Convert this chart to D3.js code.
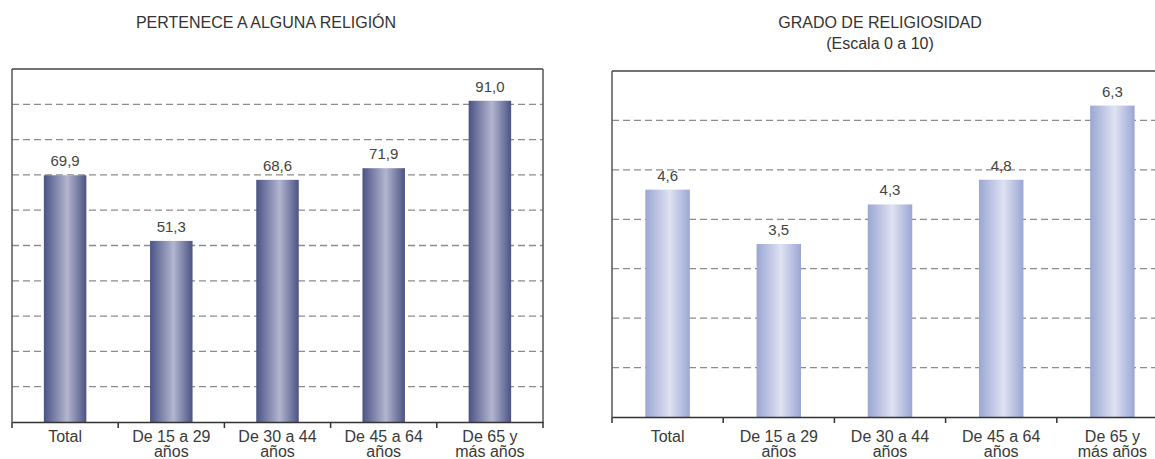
<!DOCTYPE html>
<html>
<head>
<meta charset="utf-8">
<script src="https://cdn.jsdelivr.net/npm/d3@7"></script>
<style>
  html, body { margin: 0; padding: 0; background: #fff; }
  svg { display: block; font-family: "Liberation Sans Narrow", "Arial Narrow", "Liberation Sans", sans-serif; }
</style>
</head>
<body>
<svg id="chart" width="1155" height="459"></svg>
<script>
const categories = ["Total", "De 15 a 29|años", "De 30 a 44|años", "De 45 a 64|años", "De 65 y|más años"];
const pertenece = [69.9, 51.3, 68.6, 71.9, 91.0];
const grado = [4.6, 3.5, 4.3, 4.8, 6.3];
const perteneceTicks = [10, 20, 30, 40, 50, 60, 70, 80, 90];
const gradoTicks = [1, 2, 3, 4, 5, 6];
const titleLeft = ["PERTENECE A ALGUNA RELIGIÓN"];
const titleRight = ["GRADO DE RELIGIOSIDAD", "(Escala 0 a 10)"];

const svg = d3.select("#chart");
const defs = svg.append("defs");

function gradient(id, edge, mid) {
  const g = defs.append("linearGradient").attr("id", id)
    .attr("x1", "0%").attr("x2", "100%").attr("y1", "0%").attr("y2", "0%");
  g.append("stop").attr("offset", "0%").attr("stop-color", edge);
  g.append("stop").attr("offset", "55%").attr("stop-color", mid);
  g.append("stop").attr("offset", "100%").attr("stop-color", edge);
}
gradient("gDark", "#4b5384", "#b3b6d0");
gradient("gLight", "#9ba6d4", "#dfe2f2");

function fmt(v) { return v.toFixed(1).replace(".", ","); }

function drawChart(opt) {
  const g = svg.append("g");
  const x = d3.scaleBand().domain(categories).range([opt.x0, opt.x1]).paddingInner(0.6).paddingOuter(0.3);
  const y = d3.scaleLinear().domain([0, opt.max]).range([opt.yBottom, opt.yTop]);

  // gridlines
  g.selectAll("line.grid").data(opt.ticks).enter().append("line")
    .attr("x1", opt.x0).attr("x2", opt.x1)
    .attr("y1", d => y(d)).attr("y2", d => y(d))
    .attr("stroke", "#8c8c8c").attr("stroke-width", 1.3)
    .attr("stroke-dasharray", "7,4");

  // top border
  g.append("line").attr("x1", opt.x0).attr("x2", opt.x1)
    .attr("y1", y(opt.max)).attr("y2", y(opt.max))
    .attr("stroke", "#444").attr("stroke-width", 1.5);

  // left border
  g.append("line").attr("x1", opt.x0).attr("x2", opt.x0)
    .attr("y1", y(opt.max)).attr("y2", opt.yBottom)
    .attr("stroke", "#555").attr("stroke-width", 1.5);
  if (opt.rightBorder) {
    g.append("line").attr("x1", opt.x1).attr("x2", opt.x1)
      .attr("y1", y(opt.max)).attr("y2", opt.yBottom)
      .attr("stroke", "#555").attr("stroke-width", 1.5);
  }

  // bars
  g.selectAll("rect.bar").data(opt.values).enter().append("rect")
    .attr("x", (d, i) => x(categories[i]))
    .attr("width", x.bandwidth())
    .attr("y", d => y(d))
    .attr("height", d => opt.yBottom - y(d))
    .attr("fill", opt.fill);

  // value labels
  g.selectAll("text.val").data(opt.values).enter().append("text")
    .attr("x", (d, i) => x(categories[i]) + x.bandwidth() / 2)
    .attr("y", d => y(d) - 9)
    .attr("text-anchor", "middle")
    .attr("font-size", 15).attr("fill", "#444")
    .attr("font-family", "'Liberation Sans', Arial, sans-serif")
    .text(d => fmt(d));

  // x axis
  const axis = d3.axisBottom(x).tickSize(0).tickFormat("");
  const ax = g.append("g").attr("transform", `translate(0,${opt.yBottom})`).call(axis);
  ax.select(".domain").attr("stroke", "#333").attr("stroke-width", 1.5);
  // boundary ticks
  const bounds = categories.map(c => x(c) - x.step() * x.paddingInner() / 2);
  bounds.push(opt.x1);
  bounds[0] = opt.x0;
  g.selectAll("line.btick").data(bounds).enter().append("line")
    .attr("x1", d => d).attr("x2", d => d)
    .attr("y1", opt.yBottom).attr("y2", opt.yBottom + 6)
    .attr("stroke", "#333").attr("stroke-width", 1.5);

  // category labels
  const lab = g.selectAll("text.cat").data(categories).enter().append("text")
    .attr("text-anchor", "middle")
    .attr("font-size", 16).attr("fill", "#3a3a3a")
    .attr("transform", c => `translate(${x(c) + x.bandwidth() / 2},442)`);
  lab.each(function(c) {
    const parts = c.split("|");
    parts.forEach((p, i) => {
      d3.select(this).append("tspan").attr("x", 0).attr("y", i * 15).text(p);
    });
  });

  // title
  opt.title.forEach((t, i) => {
    svg.append("text").attr("x", opt.titleX).attr("y", 28 + i * 21)
      .attr("text-anchor", "middle").attr("font-size", 16).attr("fill", "#333")
      .text(t);
  });
}

drawChart({ x0: 12, x1: 543, yTop: 69, yBottom: 422, max: 100, ticks: perteneceTicks,
  values: pertenece, fill: "url(#gDark)", rightBorder: true, title: titleLeft, titleX: 266 });
drawChart({ x0: 612, x1: 1168, yTop: 71, yBottom: 417, max: 7, ticks: gradoTicks,
  values: grado, fill: "url(#gLight)", rightBorder: false, title: titleRight, titleX: 880 });
</script>
</body>
</html>
